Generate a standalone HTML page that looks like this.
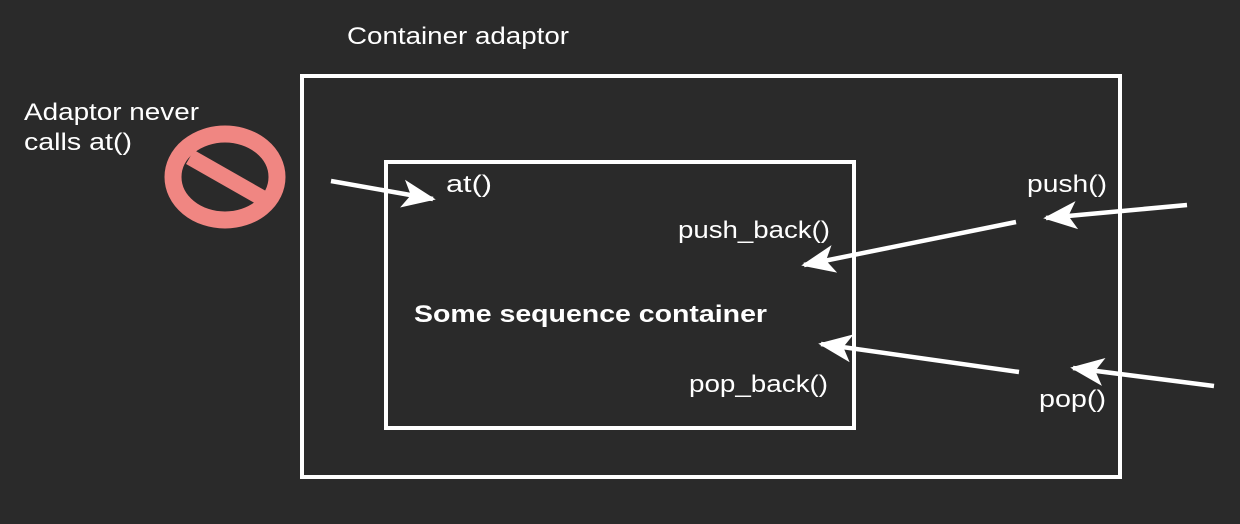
<!DOCTYPE html>
<html><head><style>
body{margin:0;background:#2a2a2a;}
svg{display:block}
text{font-family:"Liberation Sans",sans-serif;fill:#fff;font-size:24px}
</style></head><body>
<svg width="1240" height="524" viewBox="0 0 1240 524">
<defs>
<marker id="a" viewBox="0 0 12 10" refX="11" refY="5" markerWidth="7.5" markerHeight="6.5" markerUnits="strokeWidth" orient="auto">
<path d="M0,0 L12,5 L0,10 L3,5 Z" fill="#fff"/>
</marker>
</defs>
<rect x="302" y="76" width="818" height="401" fill="none" stroke="#fff" stroke-width="4"/>
<rect x="386" y="162" width="468" height="266" fill="none" stroke="#fff" stroke-width="4"/>
<ellipse cx="225" cy="177" rx="52" ry="43" fill="none" stroke="#f08682" stroke-width="17"/>
<line x1="190" y1="157" x2="262" y2="198" stroke="#f08682" stroke-width="16"/>
<g stroke="#fff" stroke-width="4.5" fill="none" marker-end="url(#a)">
<line x1="331" y1="181" x2="433" y2="199"/>
<line x1="1187" y1="205" x2="1046" y2="218"/>
<line x1="1016" y1="222" x2="804" y2="265"/>
<line x1="1019" y1="372" x2="821" y2="344"/>
<line x1="1214" y1="386" x2="1073" y2="368"/>
</g>
<text x="347" y="44" textLength="222" lengthAdjust="spacingAndGlyphs">Container adaptor</text>
<text x="24" y="120" textLength="175" lengthAdjust="spacingAndGlyphs">Adaptor never</text>
<text x="24" y="150" textLength="108" lengthAdjust="spacingAndGlyphs">calls at()</text>
<text x="446" y="192" textLength="46" lengthAdjust="spacingAndGlyphs">at()</text>
<text x="678" y="238" textLength="152" lengthAdjust="spacingAndGlyphs">push_back()</text>
<text x="1027" y="192" textLength="80" lengthAdjust="spacingAndGlyphs">push()</text>
<text x="414" y="322" font-weight="bold" textLength="353" lengthAdjust="spacingAndGlyphs">Some sequence container</text>
<text x="689" y="392" textLength="139" lengthAdjust="spacingAndGlyphs">pop_back()</text>
<text x="1039" y="407" textLength="67" lengthAdjust="spacingAndGlyphs">pop()</text>
</svg>
</body></html>
